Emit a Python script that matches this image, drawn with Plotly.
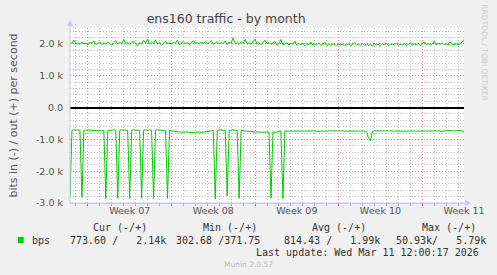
import pandas as pd
import plotly.graph_objects as go

# ---------------- data ----------------
start_time = "2026-02-06 12:00:00"
step_hours = 4

out_bps = [
    2080, 2010, 2120, 1990, 2040, 1980, 2060, 2000, 2030, 1970,
    2050, 2010, 2090, 1990, 2020, 2060, 1980, 2040, 2000, 2070,
    2010, 1960, 2030, 2100, 2000, 2050, 1990, 2140, 2010, 2060,
    1980, 2030, 2090, 2020, 1950, 2040, 2000, 2110, 2030, 2150,
    2000, 2060, 2010, 2130, 1990, 2040, 1960, 2020, 2080, 2000,
    2040, 1990, 2060, 2010, 2120, 1980, 2030, 2070, 2000, 2050,
    1970, 2030, 2100, 2010, 2050, 1990, 2060, 2020, 2080, 2000,
    2040, 2110, 1990, 2030, 2070, 2000, 2050, 2010, 2090, 1980,
    2060, 2020, 2190, 2010, 2040, 1980, 2070, 2020, 2140, 2000,
    2030, 1990, 2060, 2150, 2000, 2040, 1970, 2030, 2120, 2000,
    2050, 1980, 2030, 2080, 1950, 2010, 2140, 1970, 2000, 2040,
    1960, 2020, 1990, 2090, 1950, 2010, 1970, 2030, 1940, 2000,
    1980, 2060, 1950, 2000, 1970, 2030, 1960, 1990, 2050, 1950,
    1990, 1960, 2000, 1980, 1960, 1990, 1970, 1980, 1960, 1970,
    2000, 1950, 1980, 2040, 1960, 1990, 1940, 2010, 1960, 2000,
    1950, 1980, 1930, 2010, 1970, 1990, 1940, 2000, 1960, 2030,
    1950, 1980, 2000, 1960, 2020, 1950, 1990, 1970, 2010, 1950,
    1980, 2040, 1960, 2000, 1970, 2010, 1950, 1990, 2060, 1980,
    2010, 1960, 2000, 2080, 1970, 2010, 1990, 2030, 1970, 2000,
    1960, 2070, 1990, 1970, 2010, 1980, 2000, 2060, 2140,
]

in_bps = [
    2850, 720, 700, 710, 720, 715, 2820, 720, 710, 700,
    715, 720, 730, 725, 740, 735, 730, 720, 2860, 720,
    705, 710, 700, 715, 2850, 720, 700, 710, 705, 720,
    2860, 715, 700, 705, 710, 720, 2850, 710, 700, 715,
    705, 720, 2860, 715, 700, 710, 720, 730, 725, 2850,
    720, 730, 745, 750, 760, 770, 775, 780, 770, 765,
    780, 790, 780, 770, 760, 770, 780, 775, 770, 760,
    745, 730, 720, 2870, 720, 700, 710, 705, 720, 2780,
    720, 710, 700, 720, 715, 2850, 720, 730, 740, 735,
    745, 750, 760, 765, 760, 770, 775, 770, 760, 765,
    770, 2850, 760, 780, 770, 760, 740, 2860, 735, 740,
    745, 750, 740, 735, 740, 730, 735, 745, 740, 735,
    730, 740, 735, 745, 740, 735, 730, 740, 745, 735,
    740, 730, 735, 740, 745, 735, 730, 740, 735, 745,
    740, 735, 730, 745, 740, 735, 740, 730, 735, 760,
    950, 1050, 760, 730, 735, 740, 745, 735, 730, 740,
    735, 730, 740, 745, 735, 740, 730, 735, 740, 745,
    735, 730, 740, 735, 745, 740, 735, 730, 740, 735,
    740, 745, 735, 730, 740, 735, 740, 745, 735, 720,
    710, 720, 730, 740, 735, 720, 715, 730, 774,
]

y_tick_vals = [-3000, -2000, -1000, 0, 1000, 2000]
y_tick_text = ["-3.0 k", "-2.0 k", "-1.0 k", "0.0", "1.0 k", "2.0 k"]

week_label_dates = ["2026-02-11 12:00", "2026-02-18 12:00", "2026-02-25 12:00",
                    "2026-03-04 12:00", "2026-03-11 12:00"]
week_labels = ["Week 07", "Week 08", "Week 09", "Week 10", "Week 11"]

legend_headers = ["Cur (-/+)", "Min (-/+)", "Avg (-/+)", "Max (-/+)"]
legend_values = ["773.60 /   2.14k", "302.68 /371.75", "814.43 /   1.99k", "50.93k/   5.79k"]
series_name = "bps"
last_update = "Last update: Wed Mar 11 12:00:17 2026"
title_text = "ens160 traffic - by month"
y_title = "bits in (-) / out (+) per second"

# ---------------- layout constants ----------------
W, H = 497, 275
L, R, T, B = 67, 467, 28, 203
GREEN = "#00CC00"
AXIS_COL = "#C8C8F0"


def px(x):
    return (x - L) / (R - L)


def py(y):
    return (B - y) / (B - T)


times = pd.date_range(start=start_time, periods=len(out_bps), freq=f"{step_hours}h")
x_start = pd.Timestamp("2026-02-06 12:00:17")
x_end = pd.Timestamp("2026-03-11 12:00:17")

fig = go.Figure()
fig.add_trace(go.Scatter(x=times, y=out_bps, mode="lines", line=dict(color=GREEN, width=1),
                         showlegend=False, hoverinfo="skip"))
fig.add_trace(go.Scatter(x=times, y=[-v for v in in_bps], mode="lines",
                         line=dict(color=GREEN, width=1),
                         showlegend=False, hoverinfo="skip"))
# carrier trace for label axis
fig.add_trace(go.Scatter(x=[x_start, x_end], y=[None, None], xaxis="x2", mode="lines",
                         showlegend=False, hoverinfo="skip"))

MINOR_GRID = "rgba(185,185,185,0.9)"
MAJOR_GRID = "rgba(225,110,110,0.8)"

fig.update_layout(
    width=W, height=H,
    margin=dict(l=L, r=W - R, t=T, b=H - B, pad=0),
    paper_bgcolor="#F0F0F0",
    plot_bgcolor="#FFFFFF",
    font=dict(family="DejaVu Sans", color="#555555"),
    xaxis=dict(
        type="date", range=[x_start, x_end],
        tickmode="linear", tick0="2026-02-08", dtick=7 * 86400000,
        showticklabels=False, ticks="outside", ticklen=2, tickcolor="#E06060",
        showgrid=True, gridcolor=MAJOR_GRID, griddash="1px,2px", gridwidth=1,
        minor=dict(tickmode="linear", tick0="2026-02-07", dtick=86400000,
                   showgrid=True, gridcolor=MINOR_GRID, griddash="1px,2px",
                   ticks="outside", ticklen=2, tickcolor="#B0B0B0"),
        showline=True, linecolor=AXIS_COL, linewidth=1,
        zeroline=False, fixedrange=True,
    ),
    xaxis2=dict(
        type="date", range=[x_start, x_end], overlaying="x", anchor="y", side="bottom",
        tickmode="array", tickvals=week_label_dates, ticktext=week_labels,
        showgrid=False, showline=False, ticks="", zeroline=False,
        tickfont=dict(size=9.5, color="#555555", family="DejaVu Sans"),
    ),
    yaxis=dict(
        range=[-3000, 2500], tickmode="array", tickvals=y_tick_vals, ticktext=y_tick_text,
        tickfont=dict(size=9.5, color="#555555", family="DejaVu Sans"),
        ticks="", ticklabelstandoff=6,
        showgrid=True, gridcolor=MAJOR_GRID, griddash="1px,2px", gridwidth=1,
        minor=dict(tickmode="linear", tick0=0, dtick=200, showgrid=True,
                   gridcolor=MINOR_GRID, griddash="1px,2px"),
        zeroline=True, zerolinecolor="#000000", zerolinewidth=1.5,
        showline=False,
        title=dict(text=y_title, font=dict(size=11, color="#555555", family="DejaVu Sans"), standoff=16),
        fixedrange=True,
    ),
    title=dict(text=title_text, x=px(249), xanchor="center", y=1 - 19 / H, yanchor="middle",
               font=dict(size=12.5, color="#444444", family="DejaVu Sans")),
)

# axis lines with arrows (rrdtool style)
fig.add_shape(type="line", xref="paper", yref="paper", x0=0, x1=0, y0=0, y1=py(24),
              line=dict(color=AXIS_COL, width=1))
fig.add_shape(type="line", xref="paper", yref="paper", x0=0, x1=px(472), y0=0, y1=0,
              line=dict(color=AXIS_COL, width=1))
ax, ay = 3 / (R - L), 3 / (B - T)
fig.add_shape(type="path", xref="paper", yref="paper",
              path=f"M {-ax},{py(26)} L {ax},{py(26)} L 0,{py(20)} Z",
              fillcolor=AXIS_COL, line=dict(color=AXIS_COL, width=0))
fig.add_shape(type="path", xref="paper", yref="paper",
              path=f"M {px(468)},{-ay} L {px(468)},{ay} L {px(474)},0 Z",
              fillcolor=AXIS_COL, line=dict(color=AXIS_COL, width=0))

# legend square
fig.add_shape(type="rect", xref="paper", yref="paper", x0=px(14), x1=px(20), y0=py(243), y1=py(237),
              fillcolor=GREEN, line=dict(width=0))

MONO = dict(family="DejaVu Sans Mono", size=10, color="#333333")
header_x = [89, 201, 312, 423]
value_x = [66, 174, 283, 397]
for hx, t in zip(header_x, legend_headers):
    fig.add_annotation(x=px(hx), y=py(227), xref="paper", yref="paper", text=t, showarrow=False,
                       xanchor="left", yanchor="middle", font=MONO, borderpad=0)
fig.add_annotation(x=px(27), y=py(240), xref="paper", yref="paper", text=series_name, showarrow=False,
                   xanchor="left", yanchor="middle", font=MONO, borderpad=0)
for vx, t in zip(value_x, legend_values):
    fig.add_annotation(x=px(vx), y=py(240), xref="paper", yref="paper", text=t.replace(" ", "&nbsp;"),
                       showarrow=False, xanchor="left", yanchor="middle", font=MONO, borderpad=0)
fig.add_annotation(x=px(483), y=py(252), xref="paper", yref="paper", text=last_update, showarrow=False,
                   xanchor="right", yanchor="middle", font=MONO, borderpad=0)
fig.add_annotation(x=px(248), y=py(264), xref="paper", yref="paper", text="Munin 2.0.57", showarrow=False,
                   xanchor="center", yanchor="middle",
                   font=dict(family="DejaVu Sans", size=7.5, color="#BBBBBB"), borderpad=0)
fig.add_annotation(x=px(488), y=py(53), xref="paper", yref="paper", text="RRDTOOL / TOBI OETIKER",
                   showarrow=False, textangle=90, xanchor="center", yanchor="middle",
                   font=dict(family="DejaVu Sans", size=7.5, color="#CCCCCC"), borderpad=0)

fig.write_html("out.html", config={"displayModeBar": False})
